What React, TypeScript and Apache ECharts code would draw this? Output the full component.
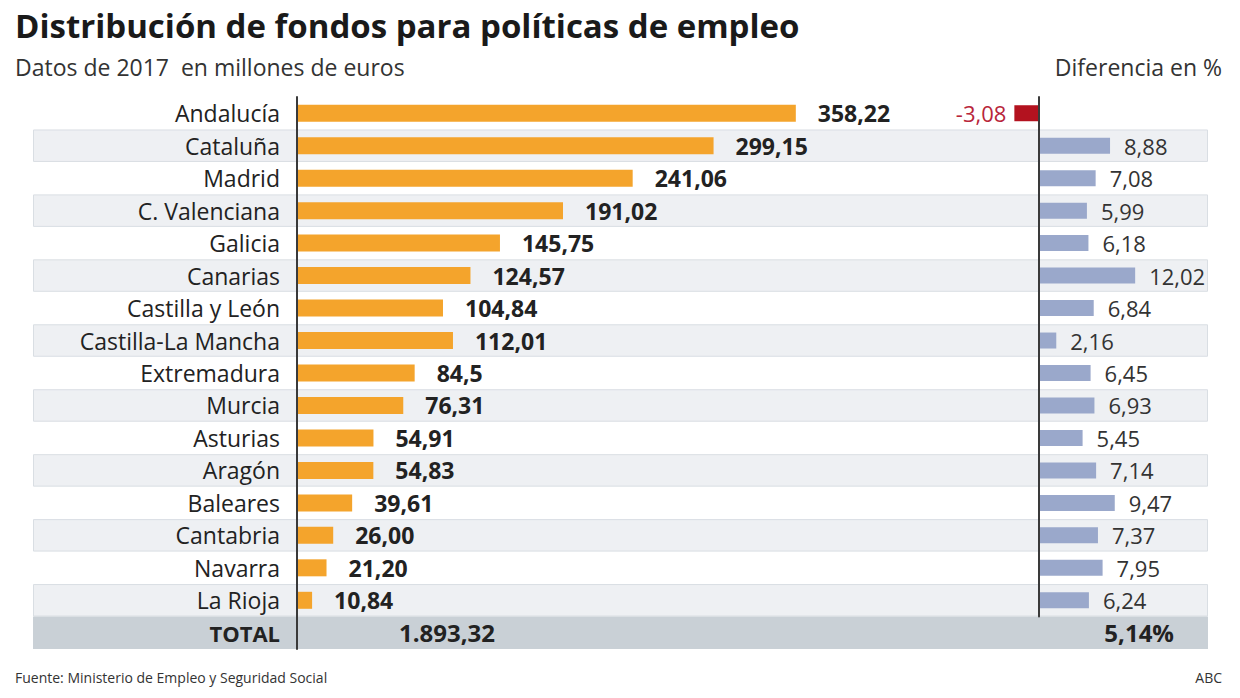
import React, { useEffect, useRef } from "react";
import * as echarts from "echarts";

const titleText = "Distribución de fondos para políticas de empleo";
const subtitleText = "Datos de 2017  en millones de euros";
const diffHeader = "Diferencia en %";
const sourceText = "Fuente: Ministerio de Empleo y Seguridad Social";
const brandText = "ABC";

const regions = [
  "Andalucía",
  "Cataluña",
  "Madrid",
  "C. Valenciana",
  "Galicia",
  "Canarias",
  "Castilla y León",
  "Castilla-La Mancha",
  "Extremadura",
  "Murcia",
  "Asturias",
  "Aragón",
  "Baleares",
  "Cantabria",
  "Navarra",
  "La Rioja",
];
const fundsText = [
  "358,22", "299,15", "241,06", "191,02", "145,75", "124,57", "104,84", "112,01",
  "84,5", "76,31", "54,91", "54,83", "39,61", "26,00", "21,20", "10,84",
];
const diffText = [
  "-3,08", "8,88", "7,08", "5,99", "6,18", "12,02", "6,84", "2,16",
  "6,45", "6,93", "5,45", "7,14", "9,47", "7,37", "7,95", "6,24",
];
const totalLabel = "TOTAL";
const totalFunds = "1.893,32";
const totalDiff = "5,14%";

const toNum = (s: string) => parseFloat(s.replace(",", "."));

const FONT = "'Open Sans', 'Noto Sans', sans-serif";
const ORANGE = "#f4a42c";
const BLUE = "#9aa8cb";
const RED = "#b3121f";
const RED_TEXT = "#b8253a";
const STRIPE = "#eef0f3";
const TOTAL_BG = "#c9d0d6";

export default function App() {
  const ref = useRef<HTMLDivElement>(null);
  useEffect(() => {
    if (!ref.current) return;
    const chart = echarts.init(ref.current, undefined, { renderer: "svg" });
    const cats = [...regions, totalLabel];
    const top = 97;
    const height = 552;
    const pitch = height / cats.length;

    const bgData = cats.map((c, i) => {
      if (c === totalLabel) return { value: 1, itemStyle: { color: TOTAL_BG } };
      if (i % 2 === 1)
        return { value: 1, itemStyle: { color: STRIPE, borderColor: "#d9dee3", borderWidth: 1 } };
      return { value: 1, itemStyle: { color: "rgba(0,0,0,0)" } };
    });

    const fundsData = [...fundsText.map(toNum), null];

    const diffData = diffText.map((t) => {
      const v = toNum(t);
      if (v < 0)
        return {
          value: v,
          itemStyle: { color: RED },
          label: { position: "left", color: RED_TEXT, distance: 8 },
        };
      return { value: v };
    });

    const option: any = {
      animation: false,
      grid: [
        { left: 33, top, width: 1175, height },
        { left: 297, top, width: 557, height },
        { left: 999, top, width: 160, height: pitch * regions.length },
      ],
      xAxis: [
        { gridIndex: 0, type: "value", min: 0, max: 1, show: false },
        { gridIndex: 1, type: "value", min: 0, max: 400, show: false },
        { gridIndex: 2, type: "value", min: -5, max: 15, show: false },
      ],
      yAxis: [
        { gridIndex: 0, type: "category", data: cats, inverse: true, show: false },
        {
          gridIndex: 1,
          type: "category",
          data: cats,
          inverse: true,
          z: 5,
          axisLine: { show: true, lineStyle: { color: "#3a3a3a", width: 2 } },
          axisTick: { show: false },
          axisLabel: {
            margin: 17,
            fontFamily: FONT,
            fontSize: 23,
            color: "#222",
            formatter: (v: string) => (v === totalLabel ? `{b|${v}}` : v),
            rich: { b: { fontFamily: FONT, fontSize: 22, fontWeight: "bold", color: "#222" } },
          },
        },
        {
          gridIndex: 2,
          type: "category",
          data: regions,
          inverse: true,
          z: 5,
          axisLine: { show: true, onZero: true, lineStyle: { color: "#3a3a3a", width: 2 } },
          axisTick: { show: false },
          axisLabel: { show: false },
        },
      ],
      series: [
        {
          type: "bar",
          xAxisIndex: 0,
          yAxisIndex: 0,
          data: bgData,
          barWidth: "100%",
          silent: true,
          z: 1,
        },
        {
          type: "bar",
          xAxisIndex: 1,
          yAxisIndex: 1,
          data: fundsData,
          barWidth: 17,
          itemStyle: { color: ORANGE },
          z: 3,
          label: {
            show: true,
            position: "right",
            distance: 22,
            fontFamily: FONT,
            fontSize: 23,
            fontWeight: "bold",
            color: "#222",
            formatter: (p: any) => fundsText[p.dataIndex],
          },
        },
        {
          type: "bar",
          xAxisIndex: 2,
          yAxisIndex: 2,
          data: diffData,
          barWidth: 16,
          itemStyle: { color: BLUE },
          z: 3,
          label: {
            show: true,
            position: "right",
            distance: 14,
            fontFamily: FONT,
            fontSize: 22,
            color: "#333",
            formatter: (p: any) => diffText[p.dataIndex],
          },
        },
      ],
      graphic: [
        {
          type: "text",
          left: 15,
          top: 9,
          z: 10,
          style: { text: titleText, fontFamily: FONT, fontSize: 33, fontWeight: "bold", fill: "#1a1a1a" },
        },
        {
          type: "text",
          left: 15,
          top: 55,
          z: 10,
          style: { text: subtitleText, fontFamily: FONT, fontSize: 23, fill: "#333" },
        },
        {
          type: "text",
          right: 18,
          top: 55,
          z: 10,
          style: { text: diffHeader, fontFamily: FONT, fontSize: 23, fill: "#333" },
        },
        {
          type: "text",
          x: 447,
          y: top + pitch * 16.5,
          z: 10,
          style: {
            text: totalFunds,
            fontFamily: FONT,
            fontSize: 24,
            fontWeight: "bold",
            fill: "#222",
            textAlign: "center",
            textVerticalAlign: "middle",
          },
        },
        {
          type: "text",
          x: 1174,
          y: top + pitch * 16.5,
          z: 10,
          style: {
            text: totalDiff,
            fontFamily: FONT,
            fontSize: 24,
            fontWeight: "bold",
            fill: "#222",
            textAlign: "right",
            textVerticalAlign: "middle",
          },
        },
        {
          type: "text",
          left: 15,
          top: 670,
          z: 10,
          style: { text: sourceText, fontFamily: FONT, fontSize: 14, fill: "#333" },
        },
        {
          type: "text",
          right: 18,
          top: 670,
          z: 10,
          style: { text: brandText, fontFamily: FONT, fontSize: 14, fill: "#333" },
        },
      ],
    };
    chart.setOption(option);
    return () => chart.dispose();
  }, []);
  return (
    <div
      ref={ref}
      style={{ position: "absolute", left: 0, top: 0, width: 1240, height: 698, background: "#fff" }}
    />
  );
}
